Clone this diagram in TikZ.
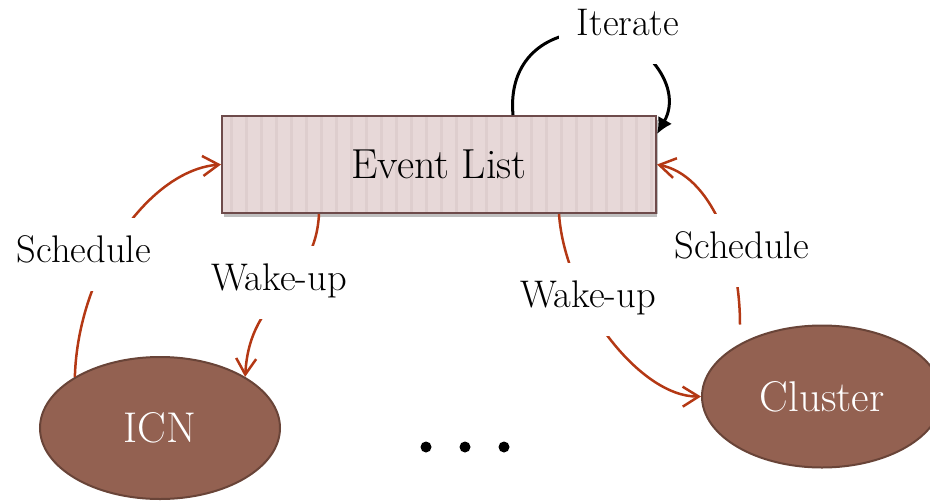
\documentclass[tikz,border=0pt]{standalone}
\usepackage{fontspec}
\usetikzlibrary{arrows.meta,shapes.geometric,shadows}

\definecolor{evfill}{RGB}{231,216,216}
\definecolor{evstripe}{RGB}{222,206,206}
\definecolor{evline}{RGB}{110,75,75}
\definecolor{nodefill}{RGB}{147,97,81}
\definecolor{nodeline}{RGB}{105,68,56}
\definecolor{wire}{RGB}{180,56,20}

\begin{document}
\begin{tikzpicture}[x=1pt,y=-1pt,
  evbox/.style={rectangle, draw=evline, line width=2pt, fill=evfill,
    minimum width=434pt, minimum height=97pt, inner sep=0pt,
    font=\fontsize{42}{50}\selectfont,
    drop shadow={shadow xshift=2pt, shadow yshift=-4pt, fill=black, opacity=0.25},
    path picture={\foreach \k in {0,...,28}
      \fill[evstripe] ([xshift={8pt+15pt*\k}]path picture bounding box.south west) rectangle ++(3pt,97pt);}},
  ellnode/.style={ellipse, draw=nodeline, line width=2pt, fill=nodefill,
    minimum width=240pt, minimum height=142pt, inner sep=0pt, text=white,
    font=\fontsize{43}{50}\selectfont},
  lbl/.style={fill=white, inner xsep=18pt, inner ysep=20pt, text height=24pt,
    text depth=9pt, anchor=base, font=\fontsize{38.5}{46}\selectfont},
  wirearrow/.style={draw=wire, line width=2.5pt,
    -{Straight Barb[length=16pt,width=20pt]}},
  iterarrow/.style={draw=black, line width=3pt, -{Latex[length=16pt,width=16pt]}}
]
\useasboundingbox (0,0) rectangle (930,501);

% main blocks
\node[evbox] (ev) at (439,164.5) {Event List};
\node[ellnode] (icn) at (160,428) {ICN};
\node[ellnode] (cl) at (822,396.5) {Cluster};

% connectors
\draw[wirearrow] (icn.149) .. controls (78,270) and (150,170) .. (ev.west);
\draw[wirearrow] ([xshift=-120pt]ev.south) .. controls (315,290) and (250,290) .. (icn.31);
\draw[wirearrow] ([xshift=120pt]ev.south) .. controls (565,300) and (640,397) .. (cl.west);
\draw[wirearrow] ([xshift=-82pt]cl.north) .. controls (740,250) and (710,175) .. (ev.east);
\draw[iterarrow] ([xshift=74pt]ev.north) .. controls (508,60) and (545,32) .. (591,32)
  .. controls (640,32) and (685,85) .. ([yshift=-19pt]ev.north east);

% connector labels
\node[lbl] (schedL) at (84,262) {Schedule};
\node[lbl] (wakeL) at (279,290) {Wake-up};
\node[lbl] (wakeR) at (588,307) {Wake-up};
\node[lbl] (schedR) at (742,258) {Schedule};
\node[lbl] (iter) at (628,35) {Iterate};

% ellipsis between the components
\foreach \x in {426,465,504} \fill (\x,447) circle (5.5pt);
\end{tikzpicture}
\end{document}
